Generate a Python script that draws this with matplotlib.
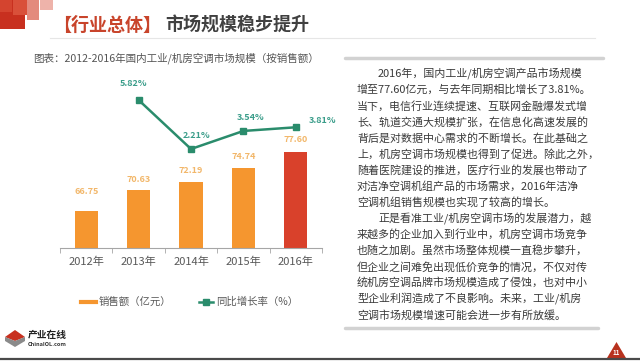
import matplotlib
matplotlib.use('Agg')
import matplotlib.pyplot as plt
from matplotlib.patches import Rectangle, Polygon
from matplotlib.lines import Line2D
import numpy as np

plt.rcParams['font.family'] = ['Noto Sans CJK SC', 'DejaVu Sans']

# data
years = ['2012年', '2013年', '2014年', '2015年', '2016年']
sales = [66.75, 70.63, 72.19, 74.74, 77.60]
growth_years = [1, 2, 3, 4]
growth = [5.82, 2.21, 3.54, 3.81]
sales_labels = ['66.75', '70.63', '72.19', '74.74', '77.60']
growth_labels = ['5.82%', '2.21%', '3.54%', '3.81%']

title_a = '【行业总体】'
title_b = '市场规模稳步提升'
subtitle = '图表：2012-2016年国内工业/机房空调市场规模（按销售额）'
body = [
    '2016年，国内工业/机房空调产品市场规模',
    '增至77.60亿元，与去年同期相比增长了3.81%。',
    '当下，电信行业连续提速、互联网金融爆发式增',
    '长、轨道交通大规模扩张，在信息化高速发展的',
    '背后是对数据中心需求的不断增长。在此基础之',
    '上，机房空调市场规模也得到了促进。除此之外，',
    '随着医院建设的推进，医疗行业的发展也带动了',
    '对洁净空调机组产品的市场需求，2016年洁净',
    '空调机组销售规模也实现了较高的增长。',
    '正是看准工业/机房空调市场的发展潜力，越',
    '来越多的企业加入到行业中，机房空调市场竞争',
    '也随之加剧。虽然市场整体规模一直稳步攀升，',
    '但企业之间难免出现低价竞争的情况，不仅对传',
    '统机房空调品牌市场规模造成了侵蚀，也对中小',
    '型企业利润造成了不良影响。未来，工业/机房',
    '空调市场规模增速可能会进一步有所放缓。',
]
indented = [0, 9]

W, H = 640, 361
fig = plt.figure(figsize=(W / 100, H / 100), dpi=100)
fig.patch.set_facecolor('white')

# overlay in pixel coordinates for the slide decoration
bg = fig.add_axes([0, 0, 1, 1], zorder=0)
bg.set_xlim(0, W)
bg.set_ylim(H, 0)
bg.axis('off')

# red squares top left
for (x, y, w, h, c) in [(0, 0, 25, 29, '#c8301f'), (13, 0, 14, 15, '#d9503a'),
                        (27, 0, 12, 20, '#e38a7d'), (40, 0, 13, 10, '#eeb3aa'),
                        (0, 0, 12, 12, '#d4442f')]:
    bg.add_patch(Rectangle((x, y), w, h, color=c, lw=0))

bg.text(53, 25, title_a, color='#c8442b', fontsize=13, fontweight='bold', va='center')
bg.text(165, 25, title_b, color='#404040', fontsize=13, fontweight='bold', va='center')
bg.plot([50, 595], [37.5, 37.5], color='#e6e6e6', lw=0.8)
bg.text(33, 58, subtitle, color='#555555', fontsize=7.6, va='center')

# text box bars
bg.plot([345, 603], [58, 58], color='#d2d2d2', lw=2.5, solid_capstyle='round')
bg.plot([345, 598], [328, 328], color='#d2d2d2', lw=2.5, solid_capstyle='round')

for i, line in enumerate(body):
    x = 378 if i in indented else 357
    bg.text(x, 74 + i * 16.07, line, color='#3a3a3a', fontsize=7.9, va='center')

# bottom line, page mark and logo
bg.plot([0, W], [358.5, 358.5], color='#4a4a4a', lw=1.6)
bg.add_patch(Polygon([[607, 358], [626, 358], [616.5, 342]], color='#b8321e', lw=0))
bg.text(616.5, 352.5, '11', color='white', fontsize=4.5, fontweight='bold', ha='center', va='center')
bg.add_patch(Polygon([[5, 337], [15, 330], [25, 337], [15, 341]], color='#c8301f', lw=0))
bg.add_patch(Polygon([[5, 337], [15, 341], [25, 337], [25, 341], [15, 347], [5, 341]], color='#8a8a8a', lw=0))
bg.text(28, 335, '产业在线', color='#222222', fontsize=7, fontweight='bold', va='center')
bg.text(28, 344, 'ChinaIOL.com', color='#333333', fontsize=4, fontweight='bold', va='center')

# chart axes
left, right, base, top = 60, 322, 248, 80
ax = fig.add_axes([left / W, (H - base) / H, (right - left) / W, (base - top) / H], zorder=2)
ax.patch.set_alpha(0)
x = np.arange(len(years))
colors = ['#f5962f'] * 4 + ['#d9412b']
ax.bar(x, sales, width=0.44, color=colors, zorder=2)
ax.set_ylim(60, 60 + (base - top) / 5.44)
ax.set_xlim(-0.5, len(years) - 0.5)
label_gap = [14, 7.5, 8, 8, 9.5]
for xi, v, lab, g in zip(x, sales, sales_labels, label_gap):
    ax.annotate(lab, (xi, v), xytext=(0, g), textcoords='offset points',
                ha='center', va='center', color='#f2b76a', fontsize=6.5, fontweight='bold')

for s in ['top', 'right', 'left']:
    ax.spines[s].set_visible(False)
ax.spines['bottom'].set_color('#a6a6a6')
ax.set_yticks([])
ax.set_xticks(x)
ax.set_xticklabels(years, color='#595959', fontsize=8)
ax.tick_params(axis='x', length=0, pad=6)
ax.set_xticks(np.arange(-0.5, len(years)), minor=True)
ax.tick_params(axis='x', which='minor', length=3.5, color='#a6a6a6', direction='out')

ax2 = ax.twinx()
ax2.set_ylim(2.21 - (base - 149) / 13.57, 2.21 - (base - 149) / 13.57 + (base - top) / 13.57)
ax2.plot(growth_years, growth, color='#2a8c6c', lw=1.8, marker='s', ms=5, zorder=3)
ax2.axis('off')
offsets = [(-4, 12), (4, 10), (5, 10), (19, 5)]
for xi, v, lab, off in zip(growth_years, growth, growth_labels, offsets):
    ax2.annotate(lab, (xi, v), xytext=off, textcoords='offset points',
                 ha='center', va='center', color='#3a9d8a', fontsize=6.5, fontweight='bold')

handles = [Line2D([], [], color='#f5962f', lw=3),
           Line2D([], [], color='#2a8c6c', lw=1.8, marker='s', ms=4.5)]
fig.legend(handles, ['销售额（亿元）', '同比增长率（%）'], loc='center',
           bbox_to_anchor=(190 / W, (H - 302) / H), ncol=2, frameon=False,
           fontsize=7.5, labelcolor='#595959', handlelength=1.4, handletextpad=0.3,
           columnspacing=2.6)

fig.savefig('out.png', dpi=100)
